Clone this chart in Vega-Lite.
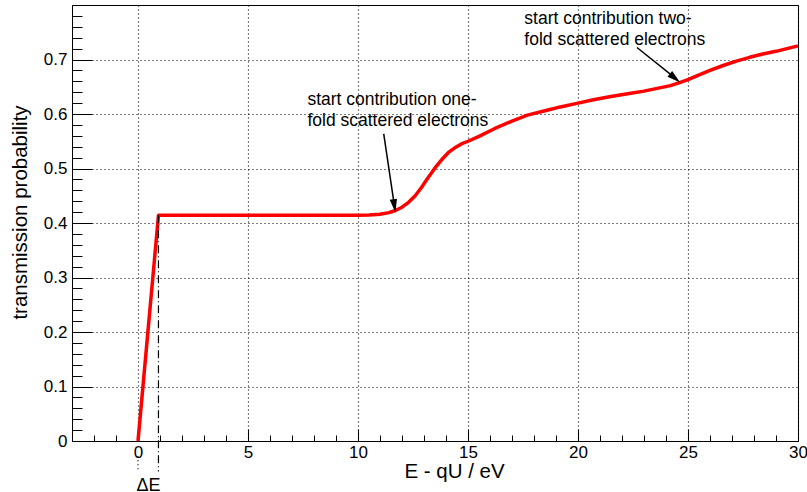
{
  "$schema": "https://vega.github.io/schema/vega-lite/v6.json",
  "width": 726,
  "height": 436,
  "autosize": "none",
  "padding": {"left": 72, "top": 5, "right": 9, "bottom": 51},
  "background": "white",
  "config": {
    "view": {"stroke": "black", "strokeWidth": 1},
    "font": "Liberation Sans",
    "text": {"font": "Liberation Sans"}
  },
  "encoding": {
    "x": {
      "field": "x",
      "type": "quantitative",
      "scale": {"domain": [-3, 30], "nice": false, "zero": false},
      "axis": {
        "title": "E - qU / eV",
        "values": [-3,-2,-1,0,1,2,3,4,5,6,7,8,9,10,11,12,13,14,15,16,17,18,19,20,21,22,23,24,25,26,27,28,29,30],
        "format": "d",
        "labelExpr": "datum.value % 5 === 0 ? datum.label : ''",
        "labelOverlap": false,
        "labelFlush": false,
        "tickSize": {"condition": {"test": "datum.value % 5 === 0", "value": -12}, "value": -6},
        "tickColor": "black",
        "tickWidth": 1,
        "domainColor": "black",
        "grid": true,
        "gridColor": "black",
        "gridDash": [1, 3],
        "gridWidth": 1.2,
        "gridOpacity": {"condition": {"test": "datum.value % 5 === 0", "value": 1}, "value": 0},
        "labelFont": "Liberation Sans",
        "labelFontSize": 17,
        "labelColor": "black",
        "labelPadding": 15,
        "titleFont": "Liberation Sans",
        "titleFontSize": 20.5,
        "titleFontWeight": "normal",
        "titleColor": "black",
        "titleAlign": "center",
        "titleBaseline": "alphabetic",
        "titleX": 382,
        "titleY": 36
      }
    },
    "y": {
      "field": "y",
      "type": "quantitative",
      "scale": {"domain": [0, 0.8], "nice": false, "zero": false},
      "axis": {
        "title": "transmission probability",
        "values": [0,0.02,0.04,0.06,0.08,0.1,0.12,0.14,0.16,0.18,0.2,0.22,0.24,0.26,0.28,0.3,0.32,0.34,0.36,0.38,0.4,0.42,0.44,0.46,0.48,0.5,0.52,0.54,0.56,0.58,0.6,0.62,0.64,0.66,0.68,0.7,0.72,0.74,0.76,0.78],
        "labelExpr": "abs(datum.value*10 - round(datum.value*10)) < 0.001 ? format(datum.value, '.1~f') : ''",
        "labelOverlap": false,
        "labelFlush": false,
        "tickSize": {"condition": {"test": "abs(datum.value*10 - round(datum.value*10)) < 0.001", "value": -20}, "value": -10},
        "tickColor": "black",
        "tickWidth": 1,
        "domainColor": "black",
        "grid": true,
        "gridColor": "black",
        "gridDash": [1, 3],
        "gridWidth": 1.2,
        "gridOpacity": {"condition": {"test": "abs(datum.value*10 - round(datum.value*10)) < 0.001", "value": 1}, "value": 0},
        "labelFont": "Liberation Sans",
        "labelFontSize": 17,
        "labelColor": "black",
        "labelPadding": 25,
        "titleFont": "Liberation Sans",
        "titleFontSize": 20.5,
        "titleFontWeight": "normal",
        "titleColor": "black",
        "titleAngle": -90,
        "titleAlign": "center",
        "titleBaseline": "alphabetic",
        "titleX": -46,
        "titleY": 207
      }
    }
  },
  "layer": [
    {
      "data": {"values": [
        {"x": 0, "y": 0},
        {"x": 0.93, "y": 0.414},
        {"x": 5, "y": 0.414},
        {"x": 10, "y": 0.414},
        {"x": 10.5, "y": 0.4145},
        {"x": 11.0, "y": 0.416},
        {"x": 11.4, "y": 0.419},
        {"x": 11.7, "y": 0.423},
        {"x": 12.0, "y": 0.429},
        {"x": 12.3, "y": 0.438},
        {"x": 12.6, "y": 0.45},
        {"x": 12.9, "y": 0.466},
        {"x": 13.2, "y": 0.484},
        {"x": 13.5, "y": 0.501},
        {"x": 13.8, "y": 0.516},
        {"x": 14.1, "y": 0.529},
        {"x": 14.4, "y": 0.538},
        {"x": 14.7, "y": 0.545},
        {"x": 15.0, "y": 0.55},
        {"x": 15.5, "y": 0.559},
        {"x": 16.2, "y": 0.573},
        {"x": 17.0, "y": 0.587},
        {"x": 17.7, "y": 0.598},
        {"x": 18.5, "y": 0.606},
        {"x": 19.2, "y": 0.613},
        {"x": 20.0, "y": 0.62},
        {"x": 20.7, "y": 0.626},
        {"x": 21.5, "y": 0.632},
        {"x": 22.4, "y": 0.638},
        {"x": 23.0, "y": 0.642},
        {"x": 23.6, "y": 0.647},
        {"x": 24.2, "y": 0.652},
        {"x": 24.65, "y": 0.658},
        {"x": 25.0, "y": 0.663},
        {"x": 25.4, "y": 0.67},
        {"x": 26.0, "y": 0.68},
        {"x": 26.6, "y": 0.689},
        {"x": 27.2, "y": 0.697},
        {"x": 27.8, "y": 0.704},
        {"x": 28.4, "y": 0.71},
        {"x": 29.0, "y": 0.715},
        {"x": 29.5, "y": 0.72},
        {"x": 30.0, "y": 0.725}
      ]},
      "mark": {"type": "line", "color": "#ff0000", "strokeWidth": 3.5, "strokeJoin": "round"}
    },
    {
      "data": {"values": [{"x": 0.93, "y": 0.414, "y2": -0.056}]},
      "mark": {"type": "rule", "color": "black", "strokeWidth": 1.2, "strokeDash": [8, 3, 1, 3]},
      "encoding": {"y2": {"field": "y2"}}
    },
    {
      "data": {"values": [{"x": 0, "y": -0.028, "y2": -0.056}]},
      "mark": {"type": "rule", "color": "black", "strokeWidth": 1.2, "strokeDash": [1, 3]},
      "encoding": {"y2": {"field": "y2"}}
    },
    {
      "data": {"values": [
        {"x": 11.17, "y": 0.5636, "x2": 11.66, "y2": 0.43},
        {"x": 22.68, "y": 0.722, "x2": 24.45, "y2": 0.665}
      ]},
      "mark": {"type": "rule", "color": "black", "strokeWidth": 1.5},
      "encoding": {"x2": {"field": "x2"}, "y2": {"field": "y2"}}
    },
    {
      "data": {"values": [{"x": 11.654, "y": 0.4315}]},
      "mark": {"type": "point", "filled": true, "color": "black", "opacity": 1, "shape": "M0,-1L0.55,1L-0.55,1Z", "size": 180, "angle": 171.3}
    },
    {
      "data": {"values": [{"x": 24.41, "y": 0.6657}]},
      "mark": {"type": "point", "filled": true, "color": "black", "opacity": 1, "shape": "M0,-1L0.55,1L-0.55,1Z", "size": 180, "angle": 129}
    },
    {
      "data": {"values": [
        {"x": 7.7, "y": 0.6167, "t": "start contribution one-"},
        {"x": 7.7, "y": 0.5788, "t": "fold scattered electrons"},
        {"x": 17.56, "y": 0.766, "t": "start contribution two-"},
        {"x": 17.56, "y": 0.727, "t": "fold scattered electrons"}
      ]},
      "mark": {"type": "text", "align": "left", "baseline": "alphabetic", "fontSize": 17.5, "color": "black", "font": "Liberation Sans"},
      "encoding": {"text": {"field": "t"}}
    },
    {
      "data": {"values": [{"x": 0.48, "y": -0.0916, "t": "ΔE"}]},
      "mark": {"type": "text", "align": "center", "baseline": "alphabetic", "fontSize": 18, "color": "black", "font": "Liberation Sans"},
      "encoding": {"text": {"field": "t"}}
    }
  ]
}
